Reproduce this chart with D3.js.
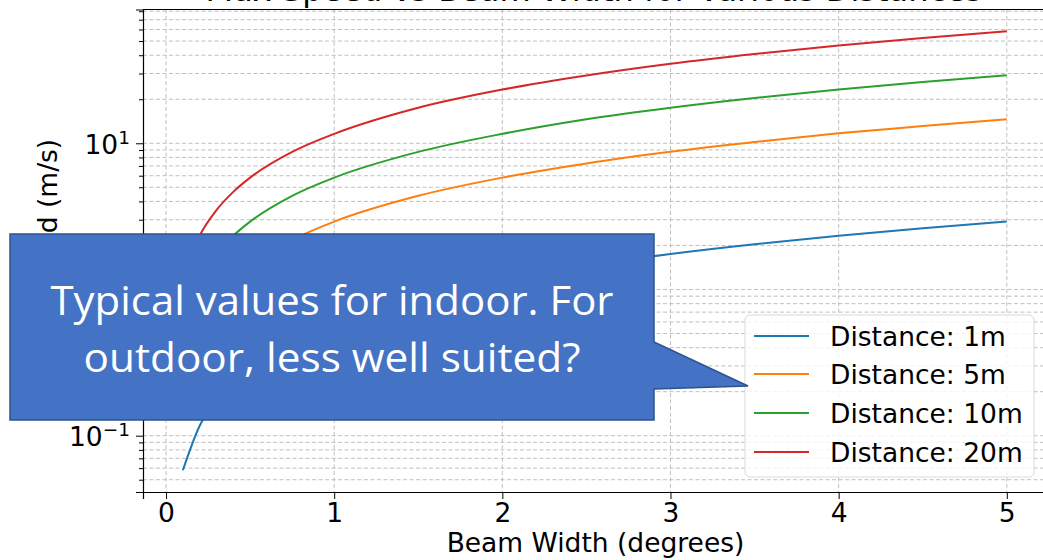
<!DOCTYPE html>
<html>
<head>
<meta charset="utf-8">
<script src="https://cdn.jsdelivr.net/npm/d3@7"></script>
<style>
  body { margin: 0; background: #fff; }
  svg { display: block; font-family: "DejaVu Sans", sans-serif; }
</style>
</head>
<body>
<div id="chart"></div>
<script>
// beam width samples (degrees)
const beamWidths = [0.1, 0.2, 0.3, 0.4, 0.5, 0.75, 1, 1.5, 2, 2.5, 3, 3.5, 4, 4.5, 5];
// max speed (m/s)
const speed1m = [0.058, 0.117, 0.175, 0.233, 0.291, 0.437, 0.582, 0.873, 1.16, 1.46, 1.75, 2.04, 2.33, 2.62, 2.92];
const speed5m = [0.291, 0.582, 0.873, 1.16, 1.46, 2.18, 2.91, 4.37, 5.82, 7.28, 8.74, 10.2, 11.7, 13.1, 14.6];
const speed10m = [0.582, 1.16, 1.75, 2.33, 2.91, 4.37, 5.82, 8.73, 11.6, 14.6, 17.5, 20.4, 23.3, 26.2, 29.2];
const speed20m = [1.16, 2.33, 3.49, 4.65, 5.82, 8.73, 11.6, 17.5, 23.3, 29.1, 35.0, 40.8, 46.6, 52.5, 58.3];
const seriesNames = ['Distance: 1m', 'Distance: 5m', 'Distance: 10m', 'Distance: 20m'];
const seriesColors = ['#1f77b4', '#ff7f0e', '#2ca02c', '#d62728'];
const xTicks = [0, 1, 2, 3, 4, 5];
const yMajor = [0.1, 1, 10];

const W = 1043, H = 560;
const FS = 26.5;
const svg = d3.select('#chart').append('svg').attr('width', W).attr('height', H);
svg.append('rect').attr('width', W).attr('height', H).attr('fill', '#fff');

const pLeft = 143, pTop = 9.5, pBottom = 492, pRight = 1048;
const x = d3.scaleLinear().domain([-0.137, 5.245]).range([pLeft, pRight]);
const y = d3.scaleLog().domain([0.0412, 82.2]).range([pBottom, pTop]);

svg.append('defs').append('clipPath').attr('id', 'plotClip')
  .append('rect').attr('x', pLeft).attr('y', pTop).attr('width', pRight - pLeft).attr('height', pBottom - pTop);

// grid
const grid = svg.append('g').attr('stroke', '#b0b0b0').attr('stroke-width', 0.8)
  .attr('stroke-dasharray', '4,2.5').attr('fill', 'none');
const minor = [];
[0.01, 0.1, 1, 10].forEach(dec => { for (let k = 2; k <= 9; k++) minor.push(dec * k); });
const minorIn = minor.filter(v => v > 0.0412 && v < 82.2);
grid.selectAll('line.h').data(yMajor.concat(minorIn)).join('line')
  .attr('x1', pLeft).attr('x2', pRight).attr('y1', d => y(d)).attr('y2', d => y(d));
grid.selectAll('line.v').data(xTicks).join('line')
  .attr('x1', d => x(d)).attr('x2', d => x(d)).attr('y1', pTop).attr('y2', pBottom);

// lines
const allSeries = [speed1m, speed5m, speed10m, speed20m];
const line = d3.line().x((d, i) => x(beamWidths[i])).y(d => y(d)).curve(d3.curveMonotoneX);
svg.append('g').attr('clip-path', 'url(#plotClip)')
  .selectAll('path').data(allSeries).join('path')
  .attr('d', line).attr('fill', 'none')
  .attr('stroke', (d, i) => seriesColors[i]).attr('stroke-width', 2);

// axes
const xAxis = svg.append('g').attr('transform', `translate(0,${pBottom})`)
  .call(d3.axisBottom(x).tickValues(xTicks).tickSize(7).tickPadding(4).tickFormat(d3.format('d')));
const yAxis = svg.append('g').attr('transform', `translate(${pLeft},0)`)
  .call(d3.axisLeft(y).tickValues(yMajor).tickSize(7).tickFormat(() => ''));
svg.append('g').attr('transform', `translate(${pLeft},0)`)
  .call(d3.axisLeft(y).tickValues(minorIn).tickSize(4).tickFormat(() => ''))
  .select('.domain').remove();
[xAxis, yAxis].forEach(a => a.select('.domain').attr('stroke', '#000').attr('stroke-width', 1.2));
svg.selectAll('.tick line').attr('stroke', '#000').attr('stroke-width', 1);
xAxis.selectAll('text').attr('font-size', FS).attr('fill', '#000').attr('font-family', 'DejaVu Sans');

// top spine
svg.append('line').attr('x1', pLeft).attr('x2', pRight).attr('y1', pTop).attr('y2', pTop)
  .attr('stroke', '#000').attr('stroke-width', 1.2);

// y tick labels 10^n
const expo = { 0.1: '\u22121', 1: '0', 10: '1' };
yMajor.forEach(v => {
  const t = svg.append('text').attr('x', pLeft - 13).attr('y', y(v) + 10.5)
    .attr('text-anchor', 'end').attr('font-size', FS).attr('fill', '#000');
  t.append('tspan').text('10');
  t.append('tspan').attr('dy', -10).attr('font-size', 18.5).text(expo[v]);
});

// axis labels and title
svg.append('text').attr('x', (pLeft + pRight) / 2).attr('y', 552).attr('text-anchor', 'middle')
  .attr('font-size', FS).text('Beam Width (degrees)');
svg.append('text').attr('transform', `translate(57,${(pTop + pBottom) / 2}) rotate(-90)`)
  .attr('text-anchor', 'middle').attr('font-size', FS).text('Max Speed (m/s)');
svg.append('text').attr('x', 594).attr('y', 1).attr('text-anchor', 'middle')
  .attr('font-size', 32).text('Max Speed vs Beam Width for Various Distances');

// legend
const lg = svg.append('g');
lg.append('rect').attr('x', 745).attr('y', 315).attr('width', 289).attr('height', 162)
  .attr('rx', 5).attr('fill', 'rgba(255,255,255,0.8)').attr('stroke', '#d9d9d9');
const rows = [336, 374, 413, 452];
seriesNames.forEach((name, i) => {
  lg.append('line').attr('x1', 754).attr('x2', 809).attr('y1', rows[i]).attr('y2', rows[i])
    .attr('stroke', seriesColors[i]).attr('stroke-width', 2);
  lg.append('text').attr('x', 830).attr('y', rows[i] + 9.5).attr('font-size', FS).text(name);
});

// callout
const callout = svg.append('g');
callout.append('path')
  .attr('d', 'M10,234 L654,234 L654,342 L748,386 L654,389 L654,420 L10,420 Z')
  .attr('fill', '#4472c4').attr('stroke', '#2f528f').attr('stroke-width', 1.5);
const calloutLines = ['Typical values for indoor. For', 'outdoor, less well suited?'];
const calloutWidths = [563, 497];
calloutLines.forEach((s, i) => {
  callout.append('text').attr('x', 332).attr('y', 315 + i * 57).attr('text-anchor', 'middle')
    .attr('font-family', 'Open Sans').attr('font-size', 41).attr('fill', '#fff')
    .attr('textLength', calloutWidths[i]).attr('lengthAdjust', 'spacingAndGlyphs').text(s);
});
</script>
</body>
</html>
